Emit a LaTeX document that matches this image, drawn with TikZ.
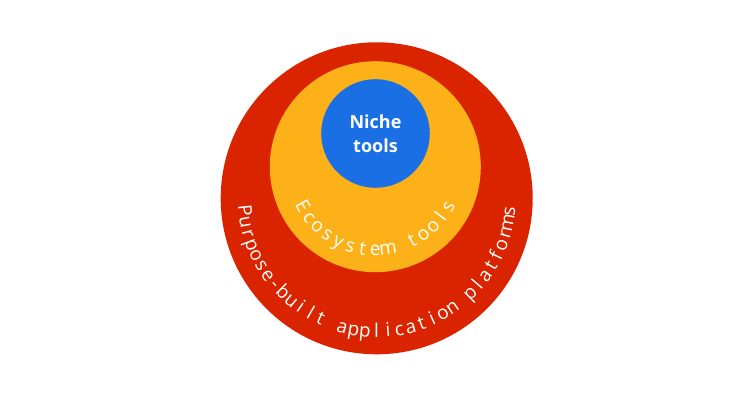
\documentclass[tikz,border=0pt]{standalone}
\usepackage{fontspec}
\setmainfont{Open Sans}
\definecolor{outerred}{HTML}{DA2400}
\definecolor{midyellow}{HTML}{FCB118}
\definecolor{innerblue}{HTML}{1B6FE5}
\tikzset{
  ring/.style={circle, inner sep=0pt, draw=none},
  arcchar/.style={anchor=base, inner sep=0pt, text=white}
}
\newlength{\arcchw}
% #1 centre, #2 radius, #3 start angle, #4 end angle, #5 font, #6 characters
\newcommand{\arcletters}[6]{%
  \xdef\arctot{0}\xdef\arcnum{0}%
  \foreach \achr in {#6}{%
    \settowidth{\arcchw}{#5\achr}%
    \pgfmathsetmacro\arctmp{\arctot+\the\arcchw}\xdef\arctot{\arctmp}%
    \pgfmathsetmacro\arctmp{\arcnum+1}\xdef\arcnum{\arctmp}%
  }%
  \pgfmathsetmacro\arctrk{((#4)-(#3))/180*pi*(#2)-\arctot}%
  \pgfmathsetmacro\arctrk{\arctrk/(\arcnum-1)}%
  \xdef\arcpos{0}%
  \foreach \achr in {#6}{%
    \settowidth{\arcchw}{#5\achr}%
    \pgfmathsetmacro\arcmid{\arcpos+\the\arcchw/2}%
    \pgfmathsetmacro\arcang{(#3)+\arcmid/(#2)*180/pi}%
    \node[arcchar, font=#5, rotate=\arcang+90] at ([shift={(\arcang:#2)}]#1) {\achr};
    \pgfmathsetmacro\arctmp{\arcpos+\the\arcchw+\arctrk}\xdef\arcpos{\arctmp}%
  }%
}
\begin{document}
\begin{tikzpicture}[x=1pt,y=1pt]
\useasboundingbox (0,0) rectangle (750,415);
\fill[white] (0,0) rectangle (750,415);
\node[ring, fill=outerred, minimum size=312pt] (outer) at (376.7,216.7) {};
\node[ring, fill=midyellow, minimum size=211pt] (mid) at (375.3,248.3) {};
\node[ring, fill=innerblue, minimum size=108.6pt, text=white, align=center, font=\bfseries\fontsize{18}{23.7}\selectfont] (inner) at (375.5,281.5) {Niche\\tools};
\arcletters{mid.center}{89}{208.5}{331.5}{\fontsize{19}{22}\selectfont}{E,c,o,s,y,s,t,e,m,\ ,t,o,o,l,s}
\arcletters{outer.center}{139}{185.5}{354.3}{\fontsize{19}{22}\selectfont}{P,u,r,p,o,s,e,-,b,u,i,l,t,\ ,a,p,p,l,i,c,a,t,i,o,n,\ ,p,l,a,t,f,o,r,m,s}
\end{tikzpicture}
\end{document}
